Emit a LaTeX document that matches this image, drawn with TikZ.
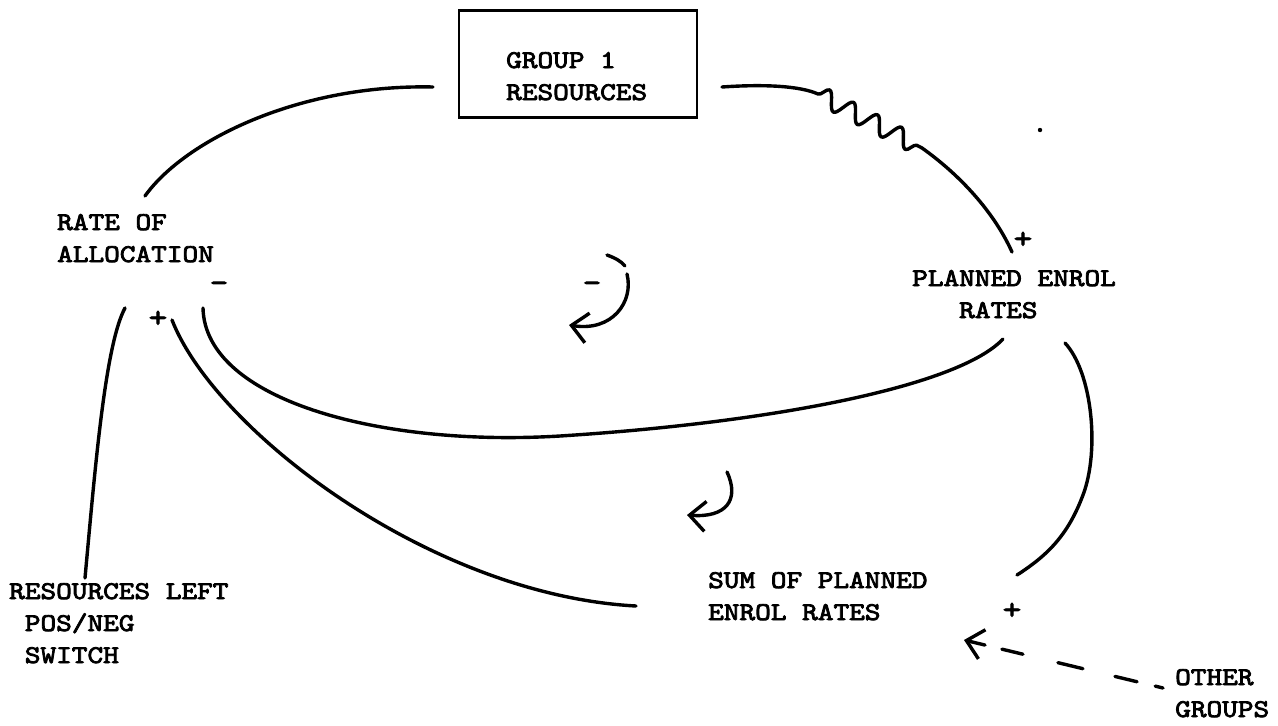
\documentclass[tikz,border=0pt]{standalone}
\usepackage{fontspec}
\newfontfamily\typew{lmmono10-regular.otf}[FakeStretch=1.17,FakeBold=3.2]
\usetikzlibrary{arrows.meta,decorations.pathmorphing}
\begin{document}
\begin{tikzpicture}[x=1pt,y=-1pt,
  lbl/.style={font=\typew\fontsize{25.5}{32}\selectfont, inner sep=0pt, anchor=base west, align=left},
  sgn/.style={font=\typew\fontsize{30}{30}\selectfont, inner sep=0pt},
  link/.style={line width=3.4pt, line cap=round, line join=round},
  barb/.style={-{Straight Barb[length=16pt,width=30pt,line width=3.4pt]}},
  stockbox/.style={draw, line width=2.4pt, minimum width=238pt, minimum height=107pt, inner sep=0pt}]
\useasboundingbox (0,0) rectangle (1278,726);

% stock box and labels (each label placed at the baseline of its last line)
\node[stockbox] (box) at (578,64) {};
\node[lbl] (grp) at (506,100) {GROUP 1\\RESOURCES};
\node[lbl] (rate) at (57,262) {RATE OF\\ALLOCATION};
\node[lbl] (plan) at (912,318) {PLANNED ENROL\\\phantom{PLA}RATES};
\node[lbl] (left) at (9,663) {RESOURCES LEFT\\\phantom{R}POS/NEG\\\phantom{R}SWITCH};
\node[lbl] (sum) at (708,620) {SUM OF PLANNED\\ENROL RATES};
\node[lbl] (other) at (1175,717) {OTHER\\GROUPS};

% polarity signs
\node[sgn] (s1) at (219,287) {-};
\node[sgn] (s2) at (158,319) {+};
\node[sgn] (s3) at (1023,240) {+};
\node[sgn] (s4) at (592,287) {-};
\node[sgn] (s5) at (1012,611) {+};
\fill (1040,130) circle (2.2pt);

% connector end points
\coordinate (boxL) at (433,87);
\coordinate (boxR) at (722,87);
\coordinate (rateT) at (145,196);
\coordinate (planT) at (1012,252);
\coordinate (rateB1) at (203,308);
\coordinate (planB1) at (1003,339);
\coordinate (rateB2) at (172,320);
\coordinate (sumW) at (636,606);
\coordinate (rateB3) at (125,308);
\coordinate (leftT) at (85,578);
\coordinate (planB2) at (1065,343);
\coordinate (sumE) at (1017,575);
\coordinate (otherW) at (1163,688);
\coordinate (sumTip) at (964,640);

% flows and links
\draw[link] (boxL) .. controls (300,84) and (185,140) .. (rateT);
\draw[link] (boxR) .. controls (765,84) and (800,86) .. (818,94)
  decorate[decoration={snake,segment length=27pt,amplitude=9pt}] {-- (922,148)}
  .. controls (960,175) and (994,212) .. (planT);
\draw[link] (rateB1) .. controls (205,400) and (380,447) .. (560,436)
  .. controls (780,422) and (960,385) .. (planB1);
\draw[link] (rateB2) .. controls (215,430) and (430,595) .. (sumW);
\draw[link] (leftT) .. controls (95,470) and (105,345) .. (rateB3);
\draw[link] (planB2) .. controls (1092,372) and (1100,450) .. (1083,495)
  .. controls (1068,535) and (1048,555) .. (sumE);
\draw[link, barb, dash pattern=on 8pt off 18.7pt on 22.7pt off 33pt on 25.7pt off 36pt on 21.6pt off 17.4pt on 40pt off 10pt]
  (otherW) -- (sumTip);

% loop direction arrows
\draw[link] (607,255) .. controls (615,258) and (621,261) .. (625,266);
\draw[link, barb] (627,274) .. controls (634,302) and (612,332) .. (569,325);
\draw[link, barb] (727,472) .. controls (740,500) and (726,518) .. (687,515);
\end{tikzpicture}
\end{document}
